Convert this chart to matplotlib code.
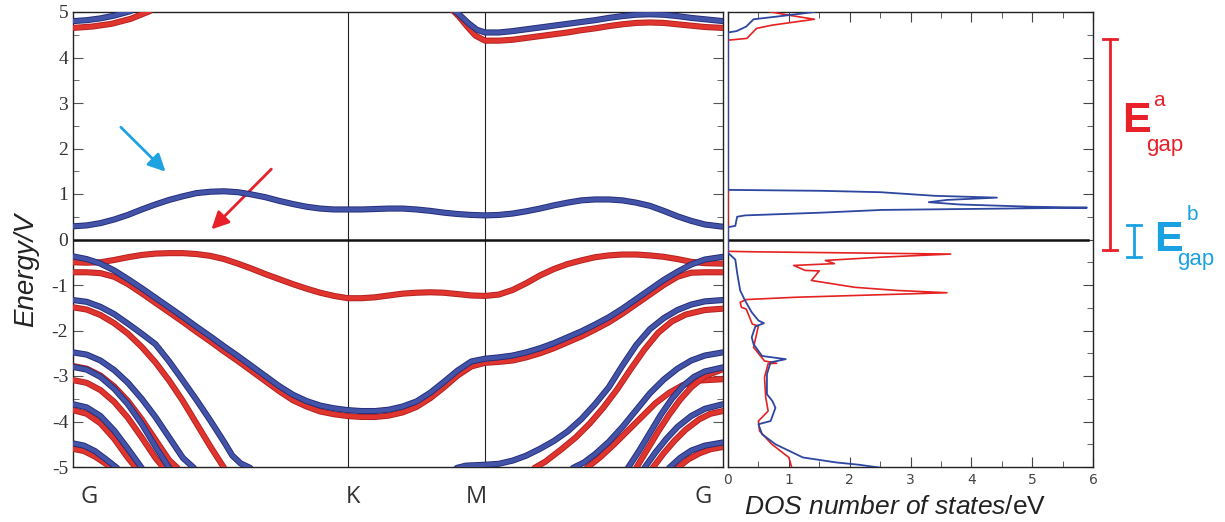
import numpy as np
import matplotlib
matplotlib.use('Agg')
from matplotlib import pyplot as plt
from matplotlib import patheffects as pe
from matplotlib import transforms
from matplotlib.ticker import MultipleLocator

plt.rcParams['mathtext.fontset'] = 'custom'
plt.rcParams['mathtext.it'] = 'Liberation Sans:italic'
plt.rcParams['mathtext.rm'] = 'Liberation Sans'
plt.rcParams['axes.unicode_minus'] = False

# k-path positions of the high symmetry points
k_pts = [0.0, 1.0, 1.5, 2.366]
k_names = ['G', 'K', 'M', 'G']
e_ticks = [-5, -4, -3, -2, -1, 0, 1, 2, 3, 4, 5]

# conduction band (spin b, blue)
cb_k = [0, 0.05, 0.1, 0.15, 0.2, 0.25, 0.3, 0.35, 0.4, 0.45, 0.5, 0.55, 0.6, 0.65, 0.7,
        0.75, 0.8, 0.85, 0.9, 0.95, 1.0, 1.05, 1.1, 1.15, 1.2, 1.25, 1.3, 1.35, 1.4,
        1.45, 1.5, 1.55, 1.6, 1.65, 1.7, 1.75, 1.8, 1.85, 1.9, 1.95, 2.0, 2.05, 2.1,
        2.15, 2.2, 2.25, 2.3, 2.366]
cb_blue = [0.29, 0.31, 0.36, 0.44, 0.54, 0.66, 0.77, 0.87, 0.95, 1.02, 1.05, 1.06, 1.04,
           0.99, 0.93, 0.85, 0.78, 0.72, 0.68, 0.66, 0.66, 0.66, 0.67, 0.68, 0.68, 0.66,
           0.63, 0.59, 0.56, 0.54, 0.53, 0.54, 0.57, 0.62, 0.68, 0.75, 0.81, 0.86, 0.88,
           0.88, 0.86, 0.81, 0.74, 0.63, 0.51, 0.41, 0.33, 0.28]

# upper conduction bands near 5 eV
up1b_k = [0, 0.05, 0.1, 0.15, 0.21]
up1b_e = [4.80, 4.82, 4.86, 4.92, 5.02]
up1r_k = [0, 0.07, 0.14, 0.21, 0.28]
up1r_e = [4.65, 4.68, 4.74, 4.85, 5.02]
up2b_k = [1.386, 1.41, 1.44, 1.47, 1.5, 1.55, 1.6, 1.65, 1.7, 1.75, 1.8, 1.85, 1.9,
          1.95, 2.0, 2.05, 2.1, 2.15, 2.2, 2.25, 2.3, 2.366]
up2_blue = [5.05, 4.92, 4.75, 4.61, 4.55, 4.55, 4.58, 4.62, 4.66, 4.70, 4.74, 4.78,
            4.82, 4.87, 4.91, 4.94, 4.95, 4.94, 4.91, 4.87, 4.84, 4.80]
up2r_k = [1.38, 1.405, 1.435, 1.465, 1.5, 1.55, 1.6, 1.65, 1.7, 1.75, 1.8, 1.85, 1.9,
          1.95, 2.0, 2.05, 2.1, 2.15, 2.2, 2.25, 2.3, 2.366]
up2_red = [5.05, 4.90, 4.68, 4.48, 4.37, 4.37, 4.39, 4.43, 4.47, 4.51, 4.55, 4.60,
           4.64, 4.69, 4.73, 4.76, 4.77, 4.76, 4.73, 4.70, 4.67, 4.65]

# top valence band (spin a, red only)
vb0_k = [0, 0.05, 0.1, 0.15, 0.2, 0.25, 0.3, 0.35, 0.4, 0.45, 0.5, 0.55, 0.6, 0.65,
         0.7, 0.75, 0.8, 0.85, 0.9, 0.95, 1.0, 1.05, 1.1, 1.15, 1.2, 1.25, 1.3, 1.35,
         1.4, 1.45, 1.5, 1.55, 1.6, 1.65, 1.7, 1.75, 1.8, 1.85, 1.9, 1.95, 2.0, 2.05,
         2.1, 2.15, 2.2, 2.25, 2.3, 2.366]
vb0_red = [-0.50, -0.51, -0.50, -0.45, -0.39, -0.34, -0.31, -0.30, -0.30, -0.32, -0.36,
           -0.43, -0.53, -0.64, -0.76, -0.87, -0.98, -1.08, -1.17, -1.24, -1.29, -1.29,
           -1.27, -1.23, -1.19, -1.17, -1.16, -1.17, -1.20, -1.23, -1.24, -1.21, -1.11,
           -0.96, -0.79, -0.65, -0.54, -0.46, -0.39, -0.35, -0.33, -0.33, -0.35, -0.38,
           -0.43, -0.49, -0.52, -0.53]

# valence band running G-K-M-G
vb1_k = [0, 0.05, 0.1, 0.15, 0.2, 0.25, 0.3, 0.35, 0.4, 0.45, 0.5, 0.55, 0.6, 0.65,
         0.7, 0.75, 0.8, 0.85, 0.9, 0.95, 1.0, 1.05, 1.1, 1.15, 1.2, 1.25, 1.3, 1.35,
         1.4, 1.45, 1.5, 1.55, 1.6, 1.65, 1.7, 1.75, 1.8, 1.85, 1.9, 1.95, 2.0, 2.05,
         2.1, 2.15, 2.2, 2.25, 2.3, 2.366]
vb1_blue = [-0.37, -0.43, -0.53, -0.68, -0.87, -1.07, -1.28, -1.49, -1.70, -1.92, -2.13,
            -2.35, -2.56, -2.78, -3.0, -3.22, -3.41, -3.55, -3.65, -3.71, -3.75, -3.77,
            -3.77, -3.74, -3.67, -3.56, -3.37, -3.13, -2.88, -2.68, -2.62, -2.59, -2.55,
            -2.48, -2.39, -2.28, -2.15, -2.02, -1.87, -1.71, -1.52, -1.31, -1.10, -0.89,
            -0.71, -0.55, -0.44, -0.38]
vb1_red = [-0.72, -0.72, -0.74, -0.82, -0.98, -1.18, -1.39, -1.60, -1.81, -2.03, -2.24,
           -2.46, -2.67, -2.89, -3.11, -3.33, -3.53, -3.67, -3.78, -3.84, -3.88, -3.90,
           -3.90, -3.87, -3.80, -3.68, -3.49, -3.25, -2.99, -2.79, -2.71, -2.69, -2.66,
           -2.59, -2.50, -2.39, -2.26, -2.13, -1.98, -1.82, -1.63, -1.42, -1.21, -1.0,
           -0.82, -0.73, -0.72, -0.72]

# lower valence bands leaving G on the left
lb3_k = [0, 0.05, 0.1, 0.15, 0.2, 0.25, 0.3, 0.35, 0.4, 0.45, 0.5, 0.55, 0.58, 0.61, 0.645]
lb3_blue = [-1.33, -1.37, -1.48, -1.64, -1.85, -2.07, -2.3, -2.68, -3.1, -3.53, -3.98,
            -4.45, -4.75, -4.92, -5.02]
lr3_k = [0, 0.05, 0.1, 0.15, 0.2, 0.25, 0.3, 0.35, 0.4, 0.45, 0.5, 0.55]
lr3_red = [-1.49, -1.54, -1.66, -1.84, -2.07, -2.36, -2.7, -3.1, -3.55, -4.05, -4.55, -5.02]
lb4_k = [0, 0.05, 0.1, 0.15, 0.2, 0.25, 0.3, 0.35, 0.4, 0.44]
lb4_blue = [-2.48, -2.53, -2.66, -2.87, -3.15, -3.5, -3.9, -4.35, -4.8, -5.02]
lr4_k = [0, 0.05, 0.1, 0.15, 0.2, 0.25, 0.3, 0.35, 0.38]
lr4_red = [-2.78, -2.84, -2.99, -3.23, -3.55, -3.95, -4.4, -4.85, -5.02]
lb5_k = [0, 0.05, 0.1, 0.15, 0.2, 0.25, 0.3, 0.35]
lb5_blue = [-2.80, -2.86, -3.02, -3.28, -3.62, -4.05, -4.55, -5.02]
lr5_k = [0, 0.05, 0.1, 0.15, 0.2, 0.25, 0.3, 0.33]
lr5_red = [-3.09, -3.15, -3.31, -3.57, -3.92, -4.35, -4.8, -5.02]
lb6_k = [0, 0.05, 0.1, 0.15, 0.2, 0.25]
lb6_blue = [-3.62, -3.69, -3.88, -4.2, -4.6, -5.02]
lr6_k = [0, 0.05, 0.1, 0.15, 0.2, 0.23]
lr6_red = [-3.75, -3.83, -4.04, -4.38, -4.8, -5.02]
lb7_k = [0, 0.04, 0.08, 0.12, 0.16]
lb7_blue = [-4.48, -4.53, -4.65, -4.83, -5.02]
lr7_k = [0, 0.04, 0.08, 0.12, 0.14]
lr7_red = [-4.60, -4.65, -4.77, -4.93, -5.02]

# lower valence bands arriving at G on the right
rb3_k = [1.397, 1.43, 1.5, 1.55, 1.6, 1.65, 1.7, 1.75, 1.8, 1.85, 1.9, 1.95, 2.0, 2.05,
         2.1, 2.15, 2.2, 2.25, 2.3, 2.366]
rb3_blue = [-5.02, -4.97, -4.95, -4.93, -4.86, -4.75, -4.6, -4.43, -4.22, -3.95, -3.62,
            -3.25, -2.77, -2.32, -1.97, -1.73, -1.55, -1.43, -1.36, -1.33]
rr3_k = [1.68, 1.72, 1.78, 1.83, 1.88, 1.93, 1.98, 2.03, 2.08, 2.13, 2.18, 2.23, 2.3, 2.366]
rr3_red = [-5.02, -4.88, -4.6, -4.35, -4.05, -3.7, -3.3, -2.85, -2.42, -2.05, -1.8,
           -1.65, -1.55, -1.52]
rb4_k = [1.82, 1.86, 1.9, 1.95, 2.0, 2.05, 2.1, 2.15, 2.2, 2.25, 2.3, 2.366]
rb4_blue = [-5.02, -4.9, -4.72, -4.45, -4.12, -3.75, -3.38, -3.08, -2.84, -2.66, -2.55, -2.48]
rr4_k = [1.87, 1.92, 1.97, 2.02, 2.07, 2.12, 2.17, 2.22, 2.28, 2.366]
rr4_red = [-5.02, -4.78, -4.5, -4.2, -3.9, -3.6, -3.37, -3.2, -3.1, -3.07]
rb5_k = [2.02, 2.06, 2.1, 2.14, 2.18, 2.22, 2.26, 2.3, 2.366]
rb5_blue = [-5.02, -4.65, -4.25, -3.85, -3.5, -3.22, -3.02, -2.9, -2.81]
rr5_k = [2.05, 2.09, 2.13, 2.17, 2.21, 2.25, 2.3, 2.366]
rr5_red = [-5.02, -4.62, -4.22, -3.85, -3.52, -3.25, -3.0, -2.85]
rb6_k = [2.08, 2.12, 2.16, 2.2, 2.25, 2.3, 2.366]
rb6_blue = [-5.02, -4.68, -4.38, -4.12, -3.88, -3.72, -3.62]
rr6_k = [2.11, 2.15, 2.19, 2.23, 2.28, 2.32, 2.366]
rr6_red = [-5.02, -4.7, -4.42, -4.18, -3.95, -3.83, -3.77]
rb7_k = [2.17, 2.21, 2.25, 2.3, 2.366]
rb7_blue = [-5.02, -4.8, -4.64, -4.53, -4.46]
rr7_k = [2.2, 2.24, 2.28, 2.32, 2.366]
rr7_red = [-5.02, -4.83, -4.7, -4.61, -4.56]

# DOS, spin b (blue)
dos_b_e = [-5.02, -4.95, -4.9, -4.79, -4.5, -4.28, -4.06, -3.99, -3.7, -3.55, -3.4,
           -2.96, -2.7, -2.63, -2.56, -2.3, -2.15, -1.91, -1.84, -1.78, -1.6, -1.34,
           -1.12, -0.73, -0.44, -0.33, -0.3, 0.27, 0.30, 0.50, 0.53, 0.59, 0.65, 0.70,
           0.72, 0.77, 0.82, 0.87, 0.92, 0.96, 1.04, 1.07, 1.09, 1.10, 4.55, 4.58, 4.68,
           4.84, 4.91, 5.0]
dos_b = [2.53, 2.15, 1.78, 1.23, 0.78, 0.56, 0.5, 0.7, 0.78, 0.73, 0.64, 0.64, 0.7,
         0.95, 0.56, 0.42, 0.39, 0.45, 0.59, 0.5, 0.39, 0.28, 0.2, 0.15, 0.12, 0.03, 0.0,
         0.0, 0.12, 0.15, 0.28, 1.53, 2.53, 5.9, 5.0, 3.8, 3.3, 3.6, 4.42, 3.4, 2.5,
         1.53, 0.03, 0.0, 0.0, 0.14, 0.3, 0.42, 0.87, 1.42]

# DOS, spin a (red)
dos_a_e = [-5.02, -4.79, -4.5, -4.21, -3.99, -3.77, -3.47, -3.03, -2.73, -2.72, -2.67,
           -2.37, -1.9, -1.86, -1.53, -1.49, -1.38, -1.32, -1.27, -1.21, -1.17, -1.12,
           -1.05, -0.90, -0.69, -0.68, -0.57, -0.53, -0.46, -0.39, -0.32, -0.27, -0.26,
           4.38, 4.42, 4.64, 4.71, 4.84, 4.93, 5.04]
dos_a = [1.05, 1.0, 0.72, 0.52, 0.5, 0.66, 0.62, 0.6, 0.66, 0.8, 0.6, 0.42, 0.5, 0.4,
         0.3, 0.22, 0.2, 0.3, 1.1, 2.6, 3.6, 2.78, 2.08, 1.37, 1.5, 1.27, 1.08, 1.75,
         1.6, 2.5, 3.66, 0.4, 0.0, 0.0, 0.31, 0.47, 0.72, 1.42, 1.0, 0.55]

# band gaps marked on the right (energy limits)
gap_a = [-0.24, 4.40]
gap_b = [-0.39, 0.31]

BLUE = '#4353a8'
BLUE_EDGE = '#232c78'
RED = '#e0352f'
RED_EDGE = '#b31f1f'
W, H = 1225, 522

fig = plt.figure(figsize=(12.25, 5.22), dpi=100)
ax = fig.add_axes([73 / W, 1 - 467 / H, 650 / W, 455 / H])
ax2 = fig.add_axes([728 / W, 1 - 467 / H, 365 / W, 455 / H])

red_fx = [pe.Stroke(linewidth=4.4, foreground=RED_EDGE), pe.Normal()]
blue_fx = [pe.Stroke(linewidth=4.4, foreground=BLUE_EDGE), pe.Normal()]

red_bands = [(up1r_k, up1r_e), (up2r_k, up2_red), (vb0_k, vb0_red), (vb1_k, vb1_red),
             (lr3_k, lr3_red), (lr4_k, lr4_red), (lr5_k, lr5_red), (lr6_k, lr6_red),
             (lr7_k, lr7_red), (rr3_k, rr3_red), (rr4_k, rr4_red), (rr5_k, rr5_red),
             (rr6_k, rr6_red), (rr7_k, rr7_red)]
blue_bands = [(cb_k, cb_blue), (up1b_k, up1b_e), (up2b_k, up2_blue), (vb1_k, vb1_blue),
              (lb3_k, lb3_blue), (lb4_k, lb4_blue), (lb5_k, lb5_blue), (lb6_k, lb6_blue),
              (lb7_k, lb7_blue), (rb3_k, rb3_blue), (rb4_k, rb4_blue), (rb5_k, rb5_blue),
              (rb6_k, rb6_blue), (rb7_k, rb7_blue)]

for kk, ee in red_bands:
    ax.plot(kk, ee, color=RED, lw=3.1, solid_capstyle='round', solid_joinstyle='round',
            path_effects=red_fx, zorder=3)
for kk, ee in blue_bands:
    ax.plot(kk, ee, color=BLUE, lw=3.1, solid_capstyle='round', solid_joinstyle='round',
            path_effects=blue_fx, zorder=4)

for kp in k_pts[1:3]:
    ax.axvline(kp, color='#222222', lw=0.8, zorder=1)
ax.axhline(0, color='#111111', lw=1.8, zorder=2)

ax.set_xlim(k_pts[0], k_pts[-1])
ax.set_ylim(-5, 5)
ax.set_xticks([])
ax.set_yticks(e_ticks)
ax.set_yticklabels([str(t) for t in e_ticks], fontfamily='Liberation Serif',
                   fontsize=14, color='#333333')
ax.yaxis.set_minor_locator(MultipleLocator(0.5))
ax.tick_params(axis='y', which='both', direction='in', left=True, right=True,
               color='#555555')
ax.tick_params(axis='y', which='major', length=7)
ax.tick_params(axis='y', which='minor', length=4)
for sp in ax.spines.values():
    sp.set_color('#222222')
    sp.set_linewidth(1.0)

ax.set_ylabel('Energy/V', fontsize=20, style='italic', family='Liberation Sans',
              color='#222222')
ax.yaxis.set_label_coords(-0.052, 0.433)

# k-point labels
lab_x = [0.058, 1.018, 1.469, 2.292]
lab_tr = transforms.blended_transform_factory(ax.transData, ax.transAxes)
for xx, nm in zip(lab_x, k_names):
    ax.text(xx, -0.066, nm, transform=lab_tr, ha='center', va='center', fontsize=17,
            family='Open Sans', color='#333333')

# arrows
ax.annotate('', xy=(0.344, 1.45), xytext=(0.167, 2.51),
            arrowprops=dict(arrowstyle='-|>', color='#1ea3e0', lw=2, mutation_scale=26))
ax.annotate('', xy=(0.497, 0.18), xytext=(0.729, 1.59),
            arrowprops=dict(arrowstyle='-|>', color='#e8202a', lw=2, mutation_scale=26))

# DOS panel
ax2.plot(dos_a, dos_a_e, color='#e52222', lw=1.2, zorder=3)
ax2.plot(dos_b, dos_b_e, color='#2d46a0', lw=1.3, zorder=4)
ax2.axhline(0, color='#111111', lw=1.8, xmax=0.985, zorder=2)
ax2.set_xlim(0, 6)
ax2.set_ylim(-5, 5)
ax2.xaxis.set_major_locator(MultipleLocator(1))
ax2.xaxis.set_minor_locator(MultipleLocator(0.5))
ax2.yaxis.set_major_locator(MultipleLocator(1))
ax2.yaxis.set_minor_locator(MultipleLocator(0.5))
ax2.tick_params(which='both', direction='in', top=True, right=True, left=False,
                labelleft=False, color='#444444')
ax2.tick_params(which='major', length=7)
ax2.tick_params(which='minor', length=4)
ax2.tick_params(axis='x', labelsize=10, labelcolor='#444444', pad=4)
for sp in ax2.spines.values():
    sp.set_color('#222222')
    sp.set_linewidth(1.0)
ax2.text(0.457, -0.088, r'$\it{DOS\ number\ of\ states}$/eV', transform=ax2.transAxes,
         ha='center', va='center', fontsize=19, family='Liberation Sans', color='#222222')

# band gap markers on the right
gtr = transforms.blended_transform_factory(fig.transFigure, ax2.transData)
RED_T = '#e8202a'
BLUE_T = '#1ba1e2'
for xc, half, (e0, e1), col in [(1110, 7, gap_a, RED_T), (1134, 7, gap_b, BLUE_T)]:
    ax2.plot([xc / W, xc / W], [e0, e1], color=col, lw=2, transform=gtr, clip_on=False)
    for ee in (e0, e1):
        ax2.plot([(xc - half) / W, (xc + half) / W], [ee, ee], color=col, lw=2,
                 transform=gtr, clip_on=False)

fig.text(1136 / W, 1 - 121 / H, 'E', fontsize=31, fontweight='bold', color=RED_T,
         family='Liberation Sans', ha='center', va='center')
fig.text(1159 / W, 1 - 100 / H, 'a', fontsize=15, color=RED_T,
         family='Liberation Sans', ha='center', va='center')
fig.text(1165 / W, 1 - 145 / H, 'gap', fontsize=16, color=RED_T,
         family='Liberation Sans', ha='center', va='center')
fig.text(1168 / W, 1 - 240 / H, 'E', fontsize=31, fontweight='bold', color=BLUE_T,
         family='Liberation Sans', ha='center', va='center')
fig.text(1192 / W, 1 - 214 / H, 'b', fontsize=15, color=BLUE_T,
         family='Liberation Sans', ha='center', va='center')
fig.text(1196 / W, 1 - 260 / H, 'gap', fontsize=16, color=BLUE_T,
         family='Liberation Sans', ha='center', va='center')

fig.savefig('out.png', dpi=100)
